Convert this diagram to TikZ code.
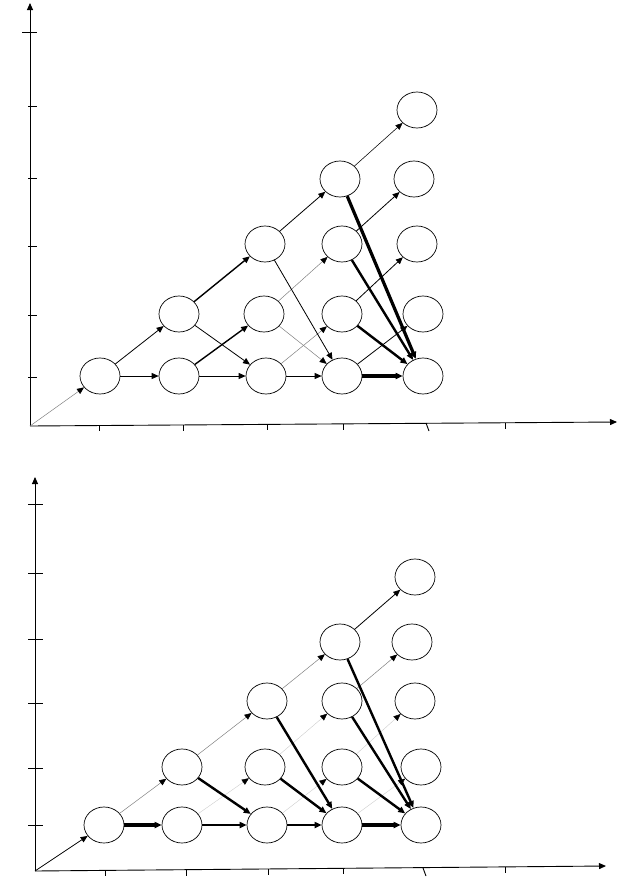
\documentclass[tikz,border=0pt]{standalone}
\usetikzlibrary{shapes.geometric, arrows.meta}

\begin{document}
\begin{tikzpicture}[x=1pt, y=-1pt,
>={Triangle[length=7pt, width=6pt, color=black]},
cell/.style={draw, ellipse, line width=0.7pt, minimum width=40pt, minimum height=36pt, inner sep=0pt},
axis/.style={line width=0.9pt},
wire/.style={->, line width=0.8pt},
wirefine/.style={->, line width=0.55pt},
wirefaint/.style={->, line width=0.5pt, gray},
wirepale/.style={->, line width=0.4pt, gray!40},
wirebold/.style={->, line width=1.4pt},
wireheavy/.style={->, line width=2.4pt},
wiremax/.style={->, line width=3.2pt}]

\useasboundingbox (0,0) rectangle (624,878);

% upper plot: axes
\coordinate (o1) at (30,426);
\draw[axis, ->] (o1) -- (30,3);
\draw[axis, ->] (o1) -- (617,422);
\draw[axis] (22,32) -- (37,32);
\draw[axis] (28,106) -- (37,106);
\draw[axis] (28,178) -- (37,178);
\draw[axis] (28,246) -- (37,246);
\draw[axis] (28,315) -- (37,315);
\draw[axis] (28,377) -- (37,377);
\draw[axis] (99,425) -- (99,431);
\draw[axis] (183,425) -- (183,431);
\draw[axis] (267,424) -- (267,430);
\draw[axis] (343,424) -- (343,430);
\draw[axis] (426,423) -- (429,431);
\draw[axis] (505,423) -- (505,429);

% upper plot: states
\node[cell] (a11) at (100,376) {};
\node[cell] (a21) at (179,376) {};
\node[cell] (a22) at (179,314) {};
\node[cell] (a31) at (266,376) {};
\node[cell] (a32) at (264,314) {};
\node[cell] (a33) at (265,244) {};
\node[cell] (a41) at (342,376) {};
\node[cell] (a42) at (342,314) {};
\node[cell] (a43) at (342,244) {};
\node[cell] (a44) at (340,179) {};
\node[cell] (a51) at (423,376) {};
\node[cell] (a52) at (423,314) {};
\node[cell] (a53) at (417,244) {};
\node[cell] (a54) at (414,179) {};
\node[cell] (a55) at (417,110) {};

% upper plot: transitions
\draw[wirefaint] (o1) -- (a11);
\draw[wire] (a11) -- (a21);
\draw[wire] (a11) -- (a22);
\draw[wire] (a21) -- (a31);
\draw[wirebold] (a21) -- (a32);
\draw[wire] (a22) -- (a31);
\draw[wirebold] (a22) -- (a33);
\draw[wire] (a31) -- (a41);
\draw[wirefaint] (a31) -- (a42);
\draw[wirefaint] (a32) -- (a41);
\draw[wirefaint] (a32) -- (a43);
\draw[wire] (a33) -- (a41);
\draw[wire] (a33) -- (a44);
\draw[wiremax] (a41) -- (a51);
\draw[wire] (a41) -- (a52);
\draw[wireheavy] (a42) -- (a51);
\draw[wire] (a42) -- (a53);
\draw[wireheavy] (a43) -- (a51);
\draw[wire] (a43) -- (a54);
\draw[wiremax] (a44) -- (a51);
\draw[wirefine] (a44) -- (a55);

% lower plot: axes
\coordinate (o2) at (35,871);
\draw[axis, ->] (o2) -- (35,477);
\draw[axis, ->] (o2) -- (606,866);
\draw[axis] (28,504) -- (43,504);
\draw[axis] (28,573) -- (43,573);
\draw[axis] (28,639) -- (43,639);
\draw[axis] (28,703) -- (43,703);
\draw[axis] (28,768) -- (43,768);
\draw[axis] (28,825) -- (43,825);
\draw[axis] (105,870) -- (105,876);
\draw[axis] (186,870) -- (186,876);
\draw[axis] (268,869) -- (268,875);
\draw[axis] (343,868) -- (343,874);
\draw[axis] (423,868) -- (426,876);
\draw[axis] (505,867) -- (505,873);

% lower plot: states
\node[cell] (b11) at (104,825) {};
\node[cell] (b21) at (182,825) {};
\node[cell] (b22) at (182,767) {};
\node[cell] (b31) at (267,825) {};
\node[cell] (b32) at (265,767) {};
\node[cell] (b33) at (267,701) {};
\node[cell] (b41) at (342,825) {};
\node[cell] (b42) at (342,767) {};
\node[cell] (b43) at (342,701) {};
\node[cell] (b44) at (340,642) {};
\node[cell] (b51) at (421,825) {};
\node[cell] (b52) at (421,767) {};
\node[cell] (b53) at (415,701) {};
\node[cell] (b54) at (412,642) {};
\node[cell] (b55) at (415,577) {};

% lower plot: transitions
\draw[wire] (o2) -- (b11);
\draw[wiremax] (b11) -- (b21);
\draw[wirefaint] (b11) -- (b22);
\draw[wireheavy] (b21) -- (b31);
\draw[wirepale] (b21) -- (b32);
\draw[wireheavy] (b22) -- (b31);
\draw[wirefaint] (b22) -- (b33);
\draw[wireheavy] (b31) -- (b41);
\draw[wirepale] (b31) -- (b42);
\draw[wireheavy] (b32) -- (b41);
\draw[wirepale] (b32) -- (b43);
\draw[wireheavy] (b33) -- (b41);
\draw[wirefaint] (b33) -- (b44);
\draw[wiremax] (b41) -- (b51);
\draw[wirepale] (b41) -- (b52);
\draw[wireheavy] (b42) -- (b51);
\draw[wirepale] (b42) -- (b53);
\draw[wireheavy] (b43) -- (b51);
\draw[wirefaint] (b43) -- (b54);
\draw[wireheavy] (b44) -- (b51);
\draw[wire] (b44) -- (b55);

\end{tikzpicture}
\end{document}
